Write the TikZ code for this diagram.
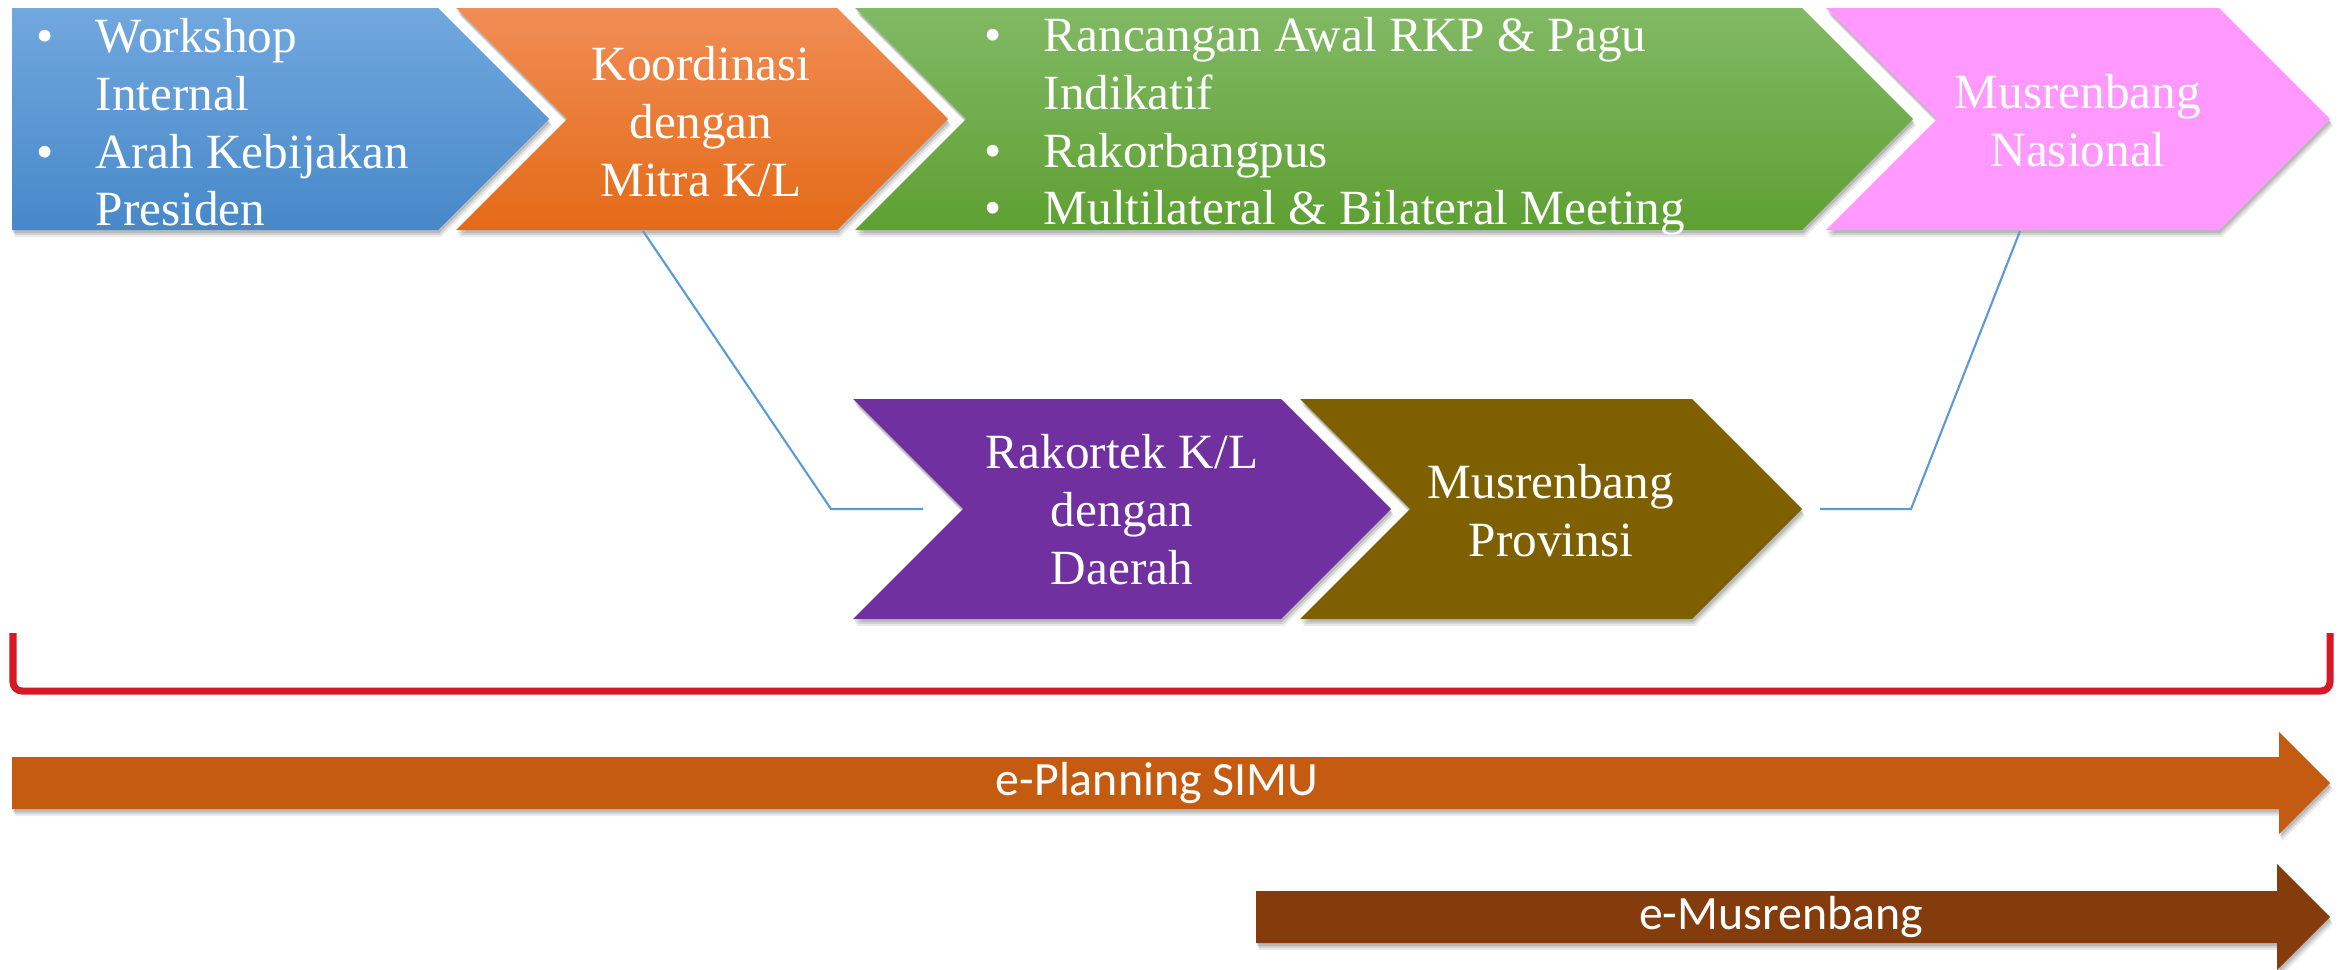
\documentclass[tikz,border=0pt]{standalone}
\usepackage{fontspec}
\setmainfont{Liberation Serif}
\newfontfamily\arrowfont{Carlito}
\definecolor{blueT}{HTML}{71A8DE}
\definecolor{blueB}{HTML}{4788C9}
\definecolor{orangeT}{HTML}{F18D55}
\definecolor{orangeB}{HTML}{E46A17}
\definecolor{greenT}{HTML}{82B965}
\definecolor{greenB}{HTML}{5EA032}
\definecolor{pinkF}{HTML}{FF99FF}
\definecolor{purpleF}{HTML}{7030A0}
\definecolor{oliveF}{HTML}{7F6000}
\definecolor{planF}{HTML}{C55A11}
\definecolor{musF}{HTML}{843C0C}
\definecolor{connC}{HTML}{5B9BD5}
\definecolor{brackC}{HTML}{D71826}
\newcommand{\Chev}[6]{%
  \pgfmathsetmacro\chM{(#5+#6)/2}%
  \pgfmathsetmacro\chD{(#6-#5)/2}%
  \pgfmathsetmacro\chT{#4+\chD}%
  \pgfmathsetmacro\chN{#2+#3*\chD}%
  \foreach \dx/\dy/\op in {3/7/0.08,2/5/0.10,1/3/0.12}{%
    \fill[black,opacity=\op,xshift=\dx*0.01cm,yshift=-\dy*0.01cm]
      (#2,#5) -- (#4,#5) -- (\chT,\chM) -- (#4,#6) -- (#2,#6) -- (\chN,\chM) -- cycle;}%
  \path[#1] (#2,#5) -- (#4,#5) -- (\chT,\chM) -- (#4,#6) -- (#2,#6) -- (\chN,\chM) -- cycle;%
}
\newcommand{\BigArrow}[6]{% style, left x, head base x, tip x, body top, body bottom, head half-extra
  \pgfmathsetmacro\arM{(#5+#6)/2}%
  \pgfmathsetmacro\arH{#4-#3}%
  \pgfmathsetmacro\arTop{\arM-\arH}%
  \pgfmathsetmacro\arBot{\arM+\arH}%
  \foreach \dx/\dy/\op in {3/7/0.08,2/5/0.10,1/3/0.12}{%
    \fill[black,opacity=\op,xshift=\dx*0.01cm,yshift=-\dy*0.01cm]
      (#2,#5) -- (#3,#5) -- (#3,\arTop) -- (#4,\arM) -- (#3,\arBot) -- (#3,#6) -- (#2,#6) -- cycle;}%
  \path[#1] (#2,#5) -- (#3,#5) -- (#3,\arTop) -- (#4,\arM) -- (#3,\arBot) -- (#3,#6) -- (#2,#6) -- cycle;%
}
\begin{document}
\begin{tikzpicture}[x=0.01cm,y=-0.01cm,
  chevtext/.style={text=white,inner sep=0pt,font=\fontsize{14}{16.4}\selectfont},
  arrowtext/.style={text=white,inner sep=0pt,font=\arrowfont\fontsize{13.6}{16}\selectfont},
  conn/.style={draw=connC,line width=0.6pt},
  bracket/.style={draw=brackC,line width=0.7mm,rounded corners=0.9mm}]
\useasboundingbox (0,0) rectangle (2343,969);
\fill[white] (0,0) rectangle (2343,969);

% top row chevrons
\Chev{top color=blueT,bottom color=blueB}{12}{0}{438}{8}{230}
\Chev{top color=orangeT,bottom color=orangeB}{456}{1}{837}{8}{230}
\Chev{top color=greenT,bottom color=greenB}{855}{1}{1802}{8}{230}
\Chev{fill=pinkF}{1826}{1}{2219}{8}{230}

% second row chevrons
\Chev{fill=purpleF}{853}{1}{1281}{399}{619}
\Chev{fill=oliveF}{1300}{1}{1692}{399}{619}

% texts
\node[chevtext,anchor=north west,align=left] (workshop) at (36,18)
  {\makebox[5.9mm][l]{•}Workshop\\\hspace*{5.9mm}Internal\\\makebox[5.9mm][l]{•}Arah Kebijakan\\\hspace*{5.9mm}Presiden};
\node[chevtext,anchor=north,align=center] (koord) at (701,46)
  {Koordinasi\\dengan\\Mitra K/L};
\node[chevtext,anchor=north west,align=left] (rancangan) at (984,17)
  {\makebox[5.9mm][l]{•}Rancangan Awal RKP \& Pagu\\\hspace*{5.9mm}Indikatif\\\makebox[5.9mm][l]{•}Rakorbangpus\\\makebox[5.9mm][l]{•}Multilateral \& Bilateral Meeting};
\node[chevtext,anchor=north,align=center] (nasional) at (2078,74)
  {Musrenbang\\Nasional};
\node[chevtext,anchor=north,align=center] (rakortek) at (1122,434)
  {Rakortek K/L\\dengan\\Daerah};
\node[chevtext,anchor=north,align=center] (provinsi) at (1551,464)
  {Musrenbang\\Provinsi};

% connectors
\coordinate (kStart) at (643,231);
\coordinate (kBend) at (831,509);
\coordinate (kEnd) at (923,509);
\coordinate (nStart) at (1820,509);
\coordinate (nBend) at (1911,509);
\coordinate (nEnd) at (2020,231);
\draw[conn] (kStart) -- (kBend) -- (kEnd);
\draw[conn] (nStart) -- (nBend) -- (nEnd);

% bracket
\coordinate (brA) at (13,633);
\coordinate (brB) at (13,691);
\coordinate (brC) at (2330,691);
\coordinate (brD) at (2330,633);
\draw[bracket] (brA) -- (brB) -- (brC) -- (brD);

% bottom arrows
\BigArrow{fill=planF}{12}{2279}{2330}{757}{809}
\BigArrow{fill=musF}{1256}{2277}{2330}{891}{943}
\node[arrowtext] (eplanning) at (1157,783) {e-Planning SIMU};
\node[arrowtext] (emus) at (1781,917) {e-Musrenbang};
\end{tikzpicture}
\end{document}
